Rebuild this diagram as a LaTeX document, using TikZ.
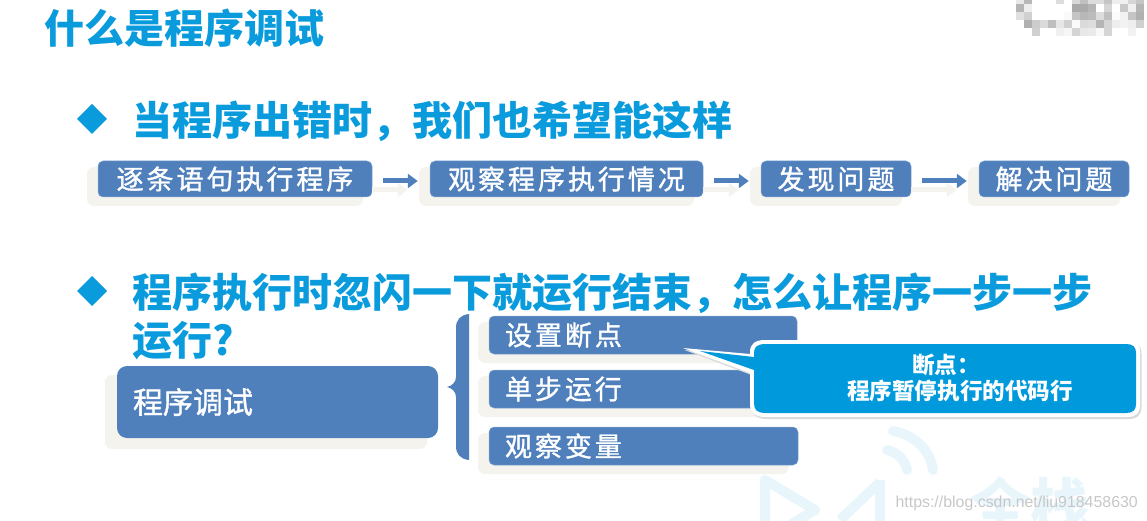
\documentclass[tikz,border=0pt]{standalone}
\usepackage{fontspec}
\setmainfont{Noto Sans CJK SC}
\newfontfamily\spaced[LetterSpace=11,FakeBold=1.2]{Noto Sans CJK SC}
\newfontfamily\boxfont[FakeBold=1.2]{Noto Sans CJK SC}
\newfontfamily\urlfont{Liberation Sans}
\usetikzlibrary{arrows.meta,calc}
\definecolor{headblue}{HTML}{0A9BDD}
\definecolor{boxblue}{HTML}{4F80BC}
\definecolor{shadowbeige}{HTML}{F4F3EE}
\definecolor{callblue}{HTML}{009ADC}
\definecolor{markblue}{HTML}{E8F6FC}
\tikzset{
  x=1pt,y=-1pt,
  heading/.style={anchor=west,inner sep=0,text=headblue,font=\fontsize{40}{40}\selectfont\bfseries},
  bulletmark/.style={fill=headblue},
  stepbox/.style={rounded corners=5pt,fill=boxblue,draw=boxblue!70!white,line width=.5pt,inner sep=0,text=white,font=\spaced\fontsize{27}{27}\selectfont},
  behind/.style={fill=shadowbeige,rounded corners=7pt},
  flow/.style={draw=boxblue,line width=5pt,-{Triangle[length=10pt,width=14pt]},shorten <=11pt,shorten >=12pt},
  flowback/.style={draw=shadowbeige,line width=5pt,-{Triangle[length=10pt,width=14pt]},shorten >=22pt},
  brandmark/.style={draw=markblue,line width=10pt,line cap=round,line join=round},
}
\newcommand{\stepat}[7]{% name x1 y1 x2 y2 options text
  \fill[behind] (#2-11,#3+6) rectangle (#4-9,#5+9);
  \node[stepbox,#6,minimum width=#4-#2,minimum height=#5-#3] (#1) at ({(#2+#4)/2},{(#3+#5)/2}) {#7};
}
\begin{document}
\begin{tikzpicture}
\useasboundingbox (0,0) rectangle (1147,521);
% watermark
\begin{scope}
\clip (0,0) rectangle (1147,521);
\draw[brandmark] (765,480) -- (765,530) (765,480) -- (815,510) -- (765,540);
\draw[brandmark,line cap=butt] (880,480) -- (880,530) (880,482) -- (840,520);
\draw[brandmark] (893,431) .. controls (915,435) and (930,450) .. (933,470);
\draw[brandmark] (887,450) .. controls (897,452) and (905,460) .. (907,470);
\node[inner sep=0,text=markblue,font=\fontsize{60}{60}\selectfont\bfseries] (brand) at (1030,505) {全栈};
\end{scope}
\node[anchor=east,inner sep=0,text=black!22,font=\urlfont\fontsize{15.9}{18}\selectfont] (url) at (1138,503) {https://blog.csdn.net/liu918458630};
% mosaic
\foreach \c/\r/\v in {
 0/0/232,1/0/184,5/0/221,7/0/216,8/0/192,9/0/221,10/0/221,11/0/197,12/0/238,13/0/240,14/0/213,15/0/197,
 0/1/181,1/1/238,7/1/170,8/1/170,9/1/181,11/1/213,13/1/200,14/1/240,15/1/181,
 0/2/224,1/2/208,6/2/250,7/2/197,8/2/184,9/2/188,10/2/221,11/2/192,12/2/251,13/2/242,14/2/197,15/2/176,
 1/3/176,2/3/204,3/3/218,4/3/190,5/3/230,6/3/208,7/3/250,8/3/218,9/3/221,10/3/181,11/3/213,12/3/238,13/3/242,14/3/238,15/3/208,
 2/4/208,5/4/240,6/4/246,7/4/212,8/4/232,9/4/234,10/4/248,11/4/213,14/4/242}{
  \pgfmathsetmacro{\ya}{\r==0?0:4+8*(\r-1)}
  \pgfmathsetmacro{\yb}{4+8*\r}
  \definecolor{cellgray}{RGB}{\v,\v,\v}
  \fill[cellgray] (1016+8*\c,\ya) rectangle (1024+8*\c,\yb);
}
% title and headings
\node[heading] (title) at (44,28) {什么是程序调试};
\fill[bulletmark] (77,119) -- (92,104) -- (107,119) -- (92,134) -- cycle;
\node[heading] (h1) at (132,121) {当程序出错时，我们也希望能这样};
\fill[bulletmark] (77,291) -- (92,276) -- (107,291) -- (92,306) -- cycle;
\node[heading] (h2) at (132,293) {程序执行时忽闪一下就运行结束，怎么让程序一步一步};
\node[heading] (h3) at (132,341) {运行?};
% flow
\stepat{a}{98}{161}{372}{197}{}{逐条语句执行程序}
\stepat{b}{430}{161}{703}{197}{}{观察程序执行情况}
\stepat{c}{761}{161}{911}{197}{}{发现问题}
\stepat{d}{979}{161}{1129}{197}{}{解决问题}
\draw[flowback] ($(a.east)+(0,11)$) -- ($(b.west)+(0,11)$);
\draw[flowback] ($(b.east)+(0,11)$) -- ($(c.west)+(0,11)$);
\draw[flowback] ($(c.east)+(0,11)$) -- ($(d.west)+(0,11)$);
\draw[flow] ($(a.east)+(0,2)$) -- ($(b.west)+(0,2)$);
\draw[flow] ($(b.east)+(0,2)$) -- ($(c.west)+(0,2)$);
\draw[flow] ($(c.east)+(0,2)$) -- ($(d.west)+(0,2)$);
% debug group
\fill[behind] (105,375) rectangle (427,449);
\node[rounded corners=10pt,fill=boxblue,inner sep=0,text=white,align=left,text width=289pt,minimum width=321pt,minimum height=72pt,font=\boxfont\fontsize{30}{30}\selectfont] (main) at (277.5,402) {程序调试};
\fill[boxblue] (469,314) .. controls (460,315) and (456,320) .. (456,328) -- (456,377) .. controls (456,382) and (452,386) .. (447,387) .. controls (452,388) and (456,392) .. (456,397) -- (456,446) .. controls (456,454) and (460,459) .. (469,460) -- cycle;
\stepat{s1}{489}{316}{797}{354}{text width=276pt,align=left}{设置断点}
\stepat{s2}{489}{370}{797}{408}{text width=276pt,align=left}{单步运行}
\stepat{s3}{489}{427}{798}{465}{text width=277pt,align=left}{观察变量}
% callout
\def\callpath{(765,340) -- (1127,340) .. controls (1136,340) and (1140,344) .. (1140,352) -- (1140,405) .. controls (1140,413) and (1136,417) .. (1127,417) -- (765,417) .. controls (755,417) and (750,412) .. (750,404) -- (750,373) -- (683,348) -- (750,354) -- (750,352) .. controls (750,344) and (755,340) .. (765,340) -- cycle}
\begin{scope}[shift={(1.5,2)}]
\fill[black!15] \callpath;
\end{scope}
\fill[white] \callpath;
\fill[callblue] (766,344) -- (1126,344) .. controls (1133,344) and (1136,347) .. (1136,353) -- (1136,404) .. controls (1136,410) and (1133,413) .. (1126,413) -- (766,413) .. controls (757,413) and (754,410) .. (754,403) -- (754,370) -- (700,351) -- (754,357) -- (754,353) .. controls (754,347) and (757,344) .. (766,344) -- cycle;
\node[inner sep=0,text=white,align=center,font=\fontsize{22.6}{26}\selectfont\bfseries] (note) at (960,378) {断点：\hspace*{28pt}\\程序暂停执行的代码行};
\end{tikzpicture}
\end{document}
